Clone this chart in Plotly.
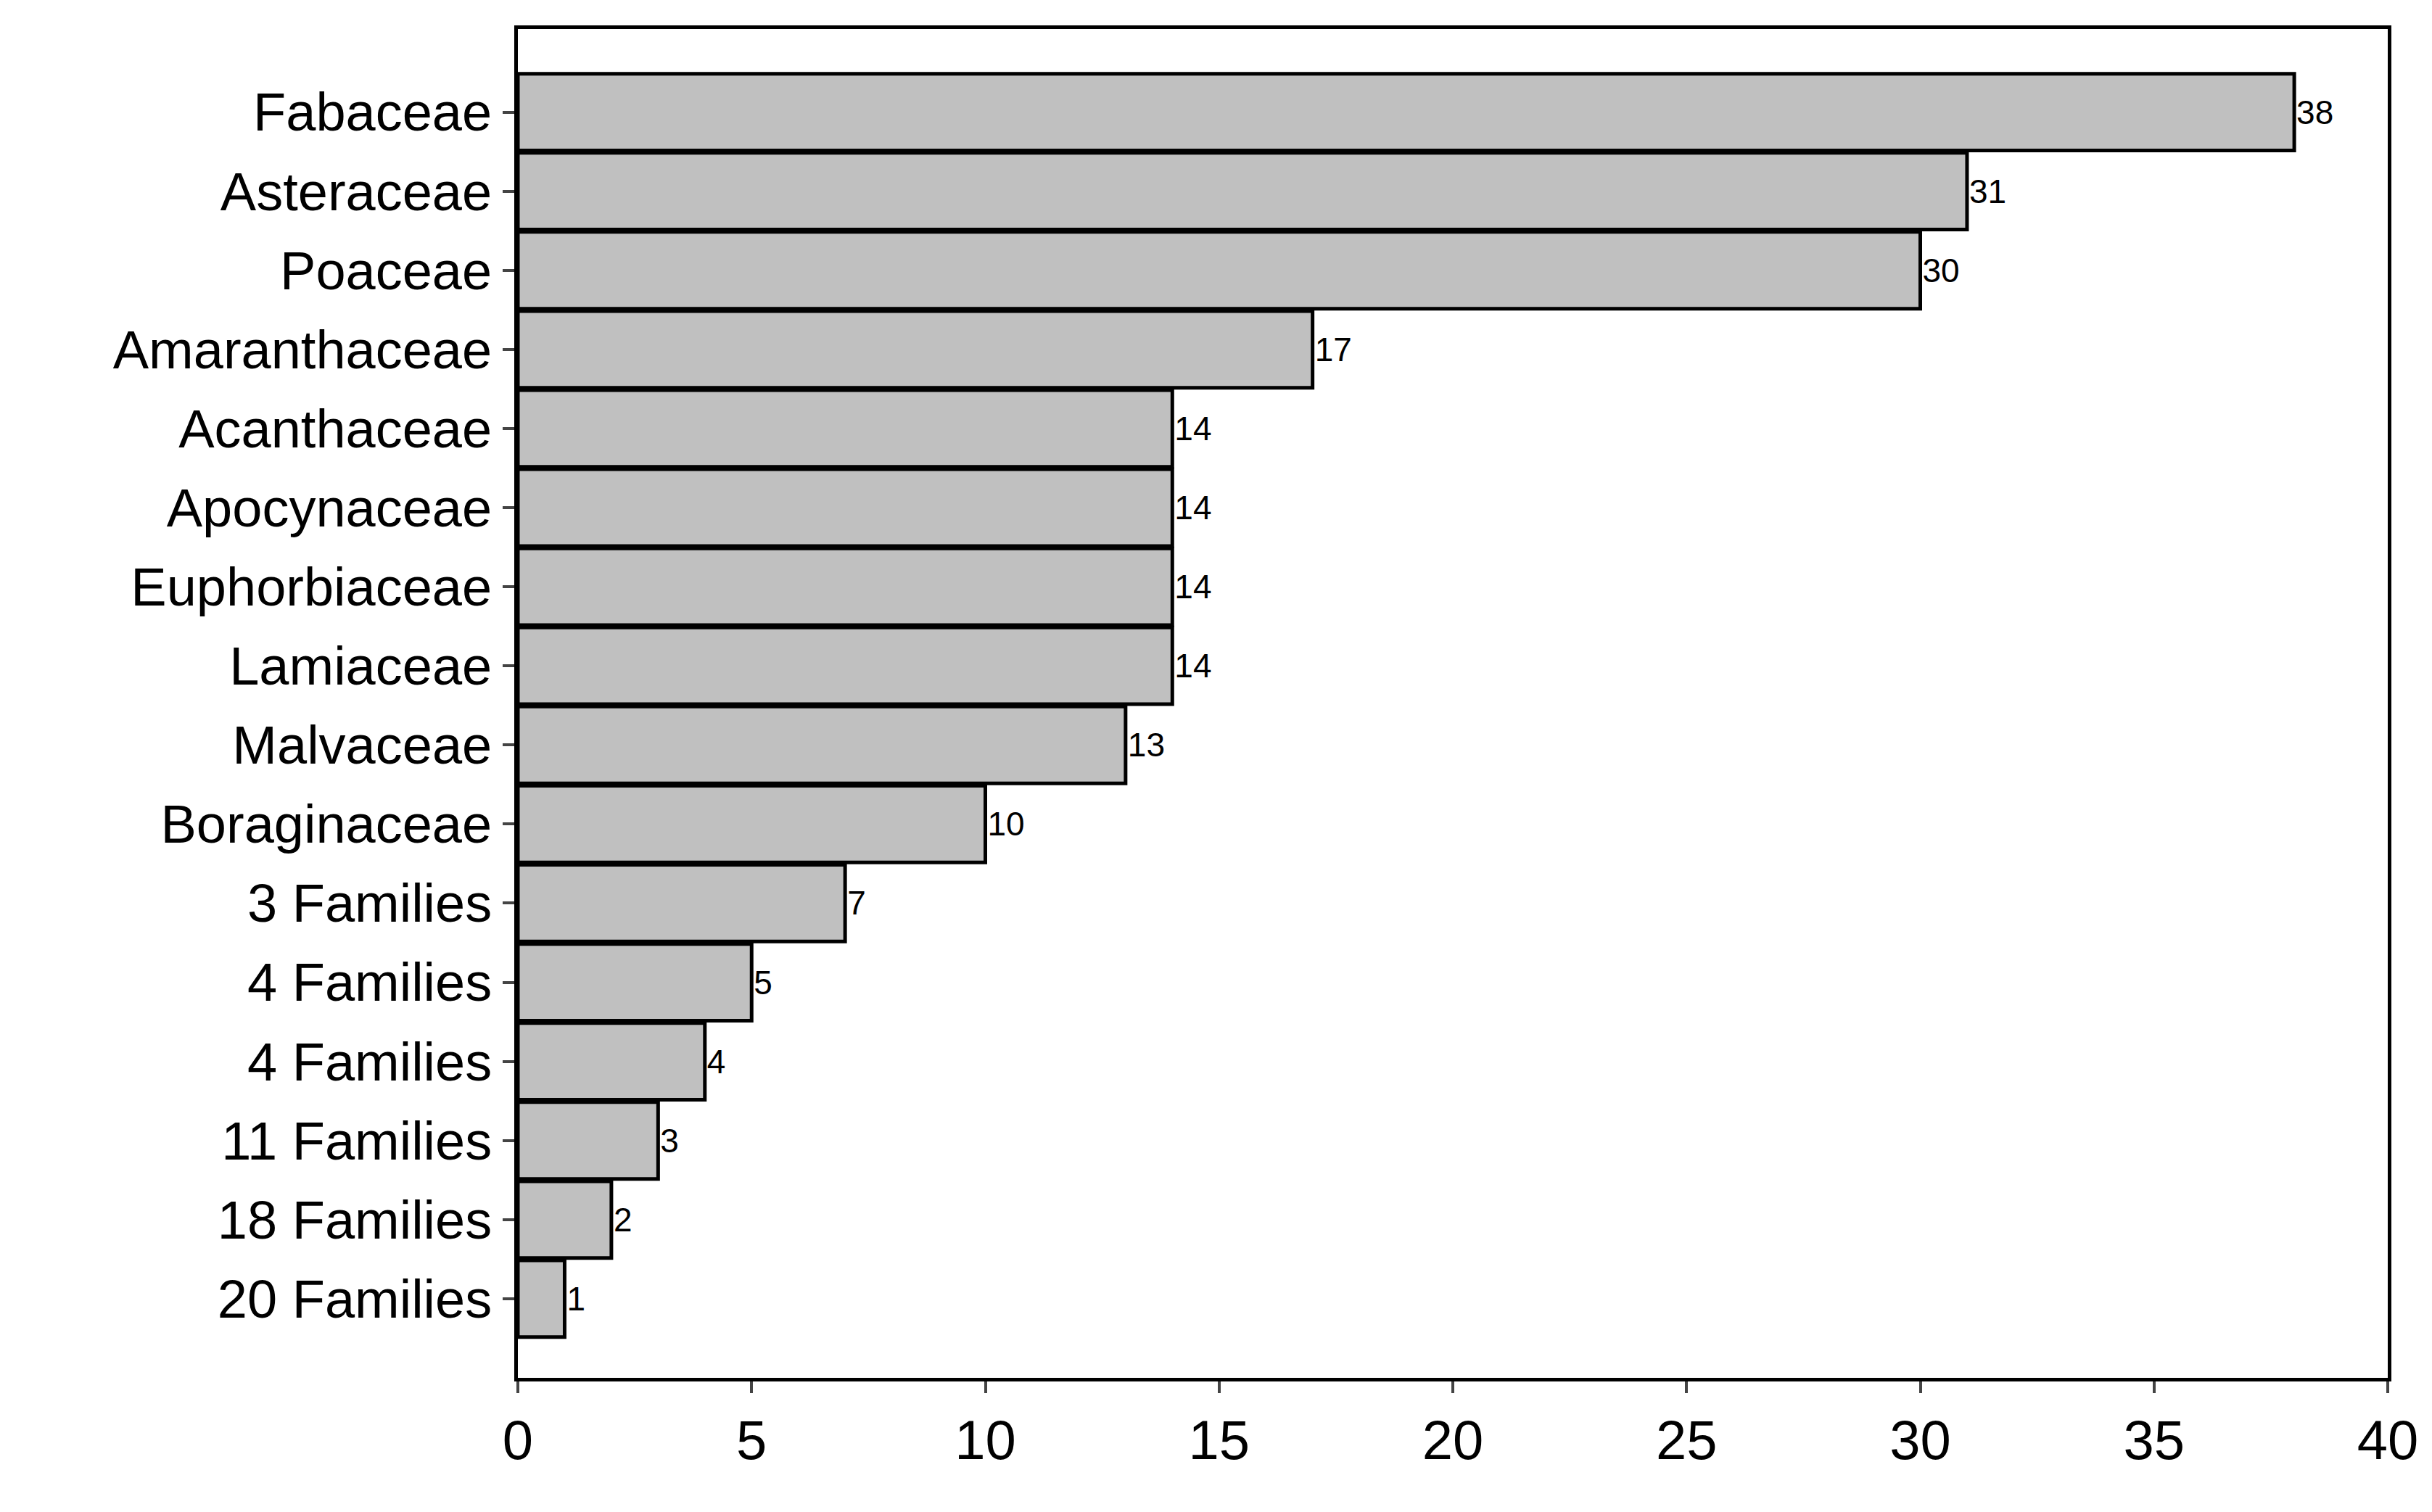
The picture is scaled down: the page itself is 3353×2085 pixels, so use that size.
import plotly.graph_objects as go

families = ["Fabaceae", "Asteraceae", "Poaceae", "Amaranthaceae", "Acanthaceae",
            "Apocynaceae", "Euphorbiaceae", "Lamiaceae", "Malvaceae", "Boraginaceae",
            "3 Families", "4 Families", "4 Families", "11 Families", "18 Families",
            "20 Families"]
counts = [38, 31, 30, 17, 14, 14, 14, 14, 13, 10, 7, 5, 4, 3, 2, 1]
x_ticks = [0, 5, 10, 15, 20, 25, 30, 35, 40]

n = len(families)
ypos = [n - 1 - i for i in range(n)]

fig = go.Figure()
fig.add_trace(go.Bar(
    x=counts, y=ypos, orientation="h",
    marker=dict(color="#c0c0c0", line=dict(color="black", width=5)),
    text=[str(c) for c in counts], textposition="outside",
    textfont=dict(size=46, color="black", family="Liberation Sans"),
    cliponaxis=False, width=0.97,
))
fig.update_layout(
    width=3353, height=2085, plot_bgcolor="white", paper_bgcolor="white",
    margin=dict(l=706, r=69, t=32, b=193), showlegend=False,
    font=dict(family="Liberation Sans", color="black"),
)
fig.update_xaxes(range=[0, 40], tickvals=x_ticks, ticks="outside", ticklen=16,
                 tickwidth=4, showline=True, linewidth=5, linecolor="black",
                 mirror=True, showgrid=False, zeroline=False,
                 tickfont=dict(size=76))
fig.update_yaxes(range=[-1.0, 16.05], tickvals=ypos, ticktext=families,
                 ticks="outside", ticklen=16, tickwidth=4, showline=True,
                 linewidth=5, linecolor="black", mirror=True, showgrid=False,
                 zeroline=False, tickfont=dict(size=74))
fig.write_html("out.html")
